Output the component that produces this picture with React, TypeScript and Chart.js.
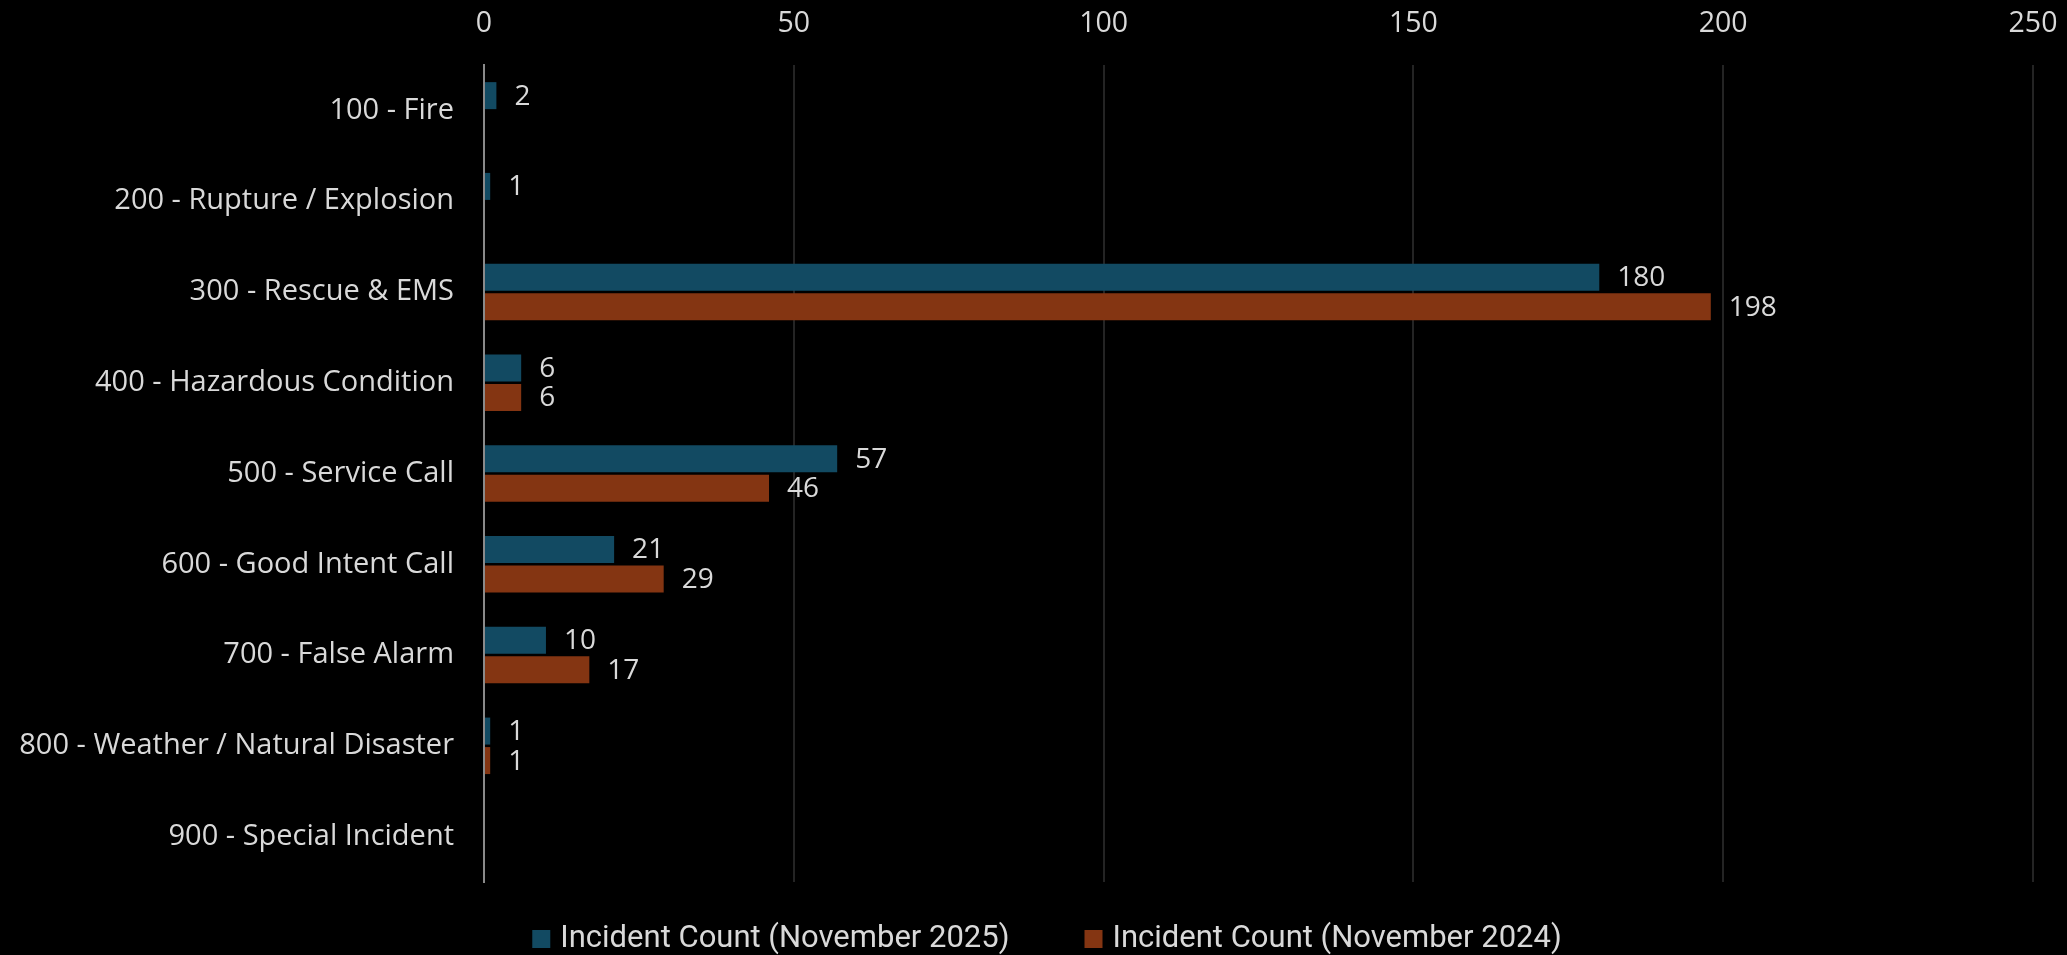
import React, { useEffect, useRef } from "react";
import { Chart, registerables } from "chart.js";

Chart.register(...registerables);

const categories = [
  "100 - Fire",
  "200 - Rupture / Explosion",
  "300 - Rescue & EMS",
  "400 - Hazardous Condition",
  "500 - Service Call",
  "600 - Good Intent Call",
  "700 - False Alarm",
  "800 - Weather / Natural Disaster",
  "900 - Special Incident",
];
const nov2025: (number | null)[] = [2, 1, 180, 6, 57, 21, 10, 1, null];
const nov2024: (number | null)[] = [null, null, 198, 6, 46, 29, 17, 1, null];
const seriesNames = ["Incident Count (November 2025)", "Incident Count (November 2024)"];
const seriesColors = ["#124a62", "#843512"];
const xTicks = [0, 50, 100, 150, 200, 250];

const FONT = "'Open Sans', Roboto, sans-serif";
const LEGEND_FONT = "Roboto, 'Liberation Sans', sans-serif";
const TEXT = "#d9d9d9";

const valueLabels = {
  id: "valueLabels",
  afterDatasetsDraw(chart: any) {
    const ctx = chart.ctx;
    ctx.save();
    ctx.fillStyle = TEXT;
    ctx.font = `28px ${FONT}`;
    ctx.textAlign = "left";
    ctx.textBaseline = "middle";
    chart.data.datasets.forEach((ds: any, i: number) => {
      const meta = chart.getDatasetMeta(i);
      meta.data.forEach((el: any, j: number) => {
        const v = ds.data[j];
        if (v === null || v === undefined) return;
        ctx.fillText(String(v), el.x + 18, el.y + 1);
      });
    });
    ctx.restore();
  },
};

const bottomLegend = {
  id: "bottomLegend",
  afterDraw(chart: any) {
    const ctx = chart.ctx;
    ctx.save();
    ctx.font = `31px ${LEGEND_FONT}`;
    ctx.textBaseline = "middle";
    ctx.textAlign = "left";
    const box = 18;
    const gap = 10;
    const itemGap = 75;
    const items = chart.data.datasets.map((ds: any) => ({
      text: ds.label,
      color: ds.backgroundColor,
      w: ctx.measureText(ds.label).width,
    }));
    const total =
      items.reduce((a: number, it: any) => a + box + gap + it.w, 0) + itemGap * (items.length - 1);
    let x = 1047 - total / 2;
    const cy = 939;
    items.forEach((it: any) => {
      ctx.fillStyle = it.color;
      ctx.fillRect(x, cy - box / 2, box, box);
      ctx.fillStyle = TEXT;
      ctx.fillText(it.text, x + box + gap, cy);
      x += box + gap + it.w + itemGap;
    });
    ctx.restore();
  },
};

export default function App() {
  const ref = useRef<HTMLCanvasElement | null>(null);
  useEffect(() => {
    document.body.style.margin = "0";
    document.body.style.background = "#000";
    const chart = new Chart(ref.current!, {
      type: "bar",
      data: {
        labels: categories,
        datasets: [
          {
            label: seriesNames[0],
            data: nov2025,
            backgroundColor: seriesColors[0],
            categoryPercentage: 0.65,
            barPercentage: 0.915,
          },
          {
            label: seriesNames[1],
            data: nov2024,
            backgroundColor: seriesColors[1],
            categoryPercentage: 0.65,
            barPercentage: 0.915,
          },
        ],
      },
      options: {
        indexAxis: "y",
        animation: false,
        responsive: true,
        maintainAspectRatio: false,
        layout: { padding: { left: 0, right: 34, top: 0, bottom: 73 } },
        scales: {
          x: {
            position: "top",
            min: 0,
            max: 250,
            afterBuildTicks: (s: any) => {
              s.ticks = xTicks.map((v) => ({ value: v }));
            },
            afterFit: (s: any) => {
              s.height = 65;
              s.paddingLeft = 0;
              s.paddingRight = 0;
            },
            grid: { color: "#242424", lineWidth: 2, drawTicks: false },
            border: { display: false },
            ticks: {
              color: TEXT,
              font: { family: FONT, size: 28.5 },
              padding: 24,
            },
          },
          y: {
            afterFit: (s: any) => {
              s.width = 484;
              s.paddingTop = 0;
              s.paddingBottom = 0;
            },
            grid: { display: false, drawTicks: false },
            border: { display: true, color: "#8a8a8a", width: 2 },
            ticks: {
              color: TEXT,
              font: { family: FONT, size: 29 },
              padding: 30,
            },
          },
        },
        plugins: {
          legend: { display: false },
          tooltip: { enabled: false },
        },
      },
      plugins: [valueLabels, bottomLegend],
    });
    return () => chart.destroy();
  }, []);
  return (
    <div style={{ position: "absolute", left: 0, top: 0, width: 2067, height: 955, background: "#000" }}>
      <canvas ref={ref} />
    </div>
  );
}
